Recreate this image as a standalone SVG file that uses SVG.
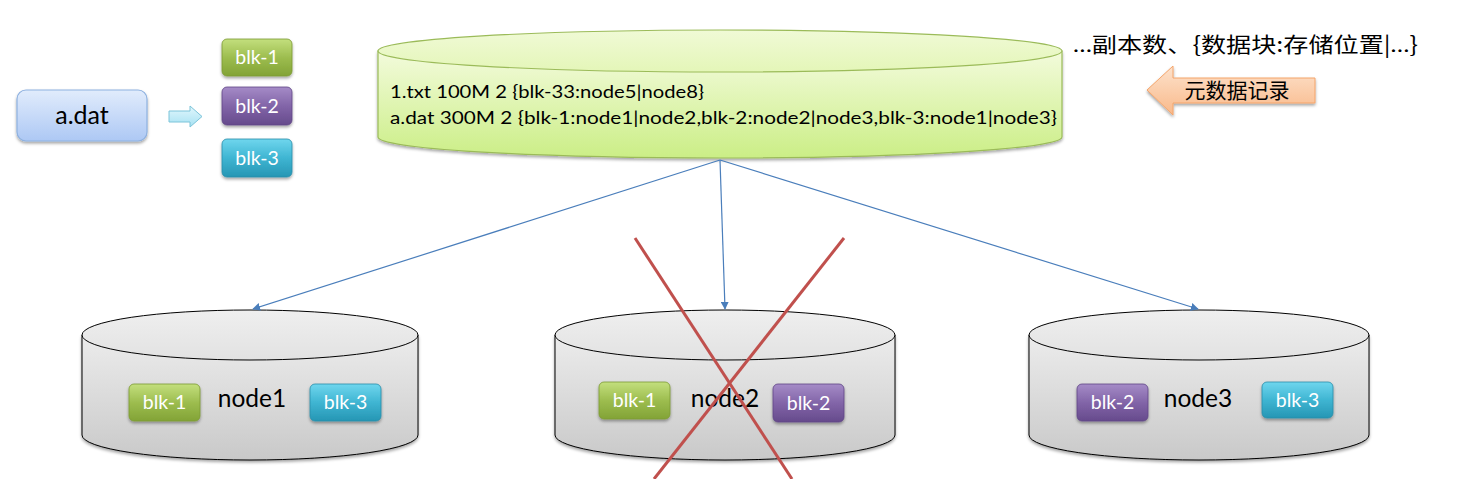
<svg xmlns="http://www.w3.org/2000/svg" width="1459" height="479" viewBox="0 0 1459 479">
<defs>
<style>
.lbl{font-family:Lato,"Liberation Sans","Noto Sans CJK SC",sans-serif;fill:#000}
.blk{font-family:Lato,"Liberation Sans",sans-serif;font-size:19.5px;fill:#fff;text-anchor:middle}
.cn{font-family:"Noto Sans CJK SC",sans-serif;fill:#000}
.lat{font-family:Lato,"Liberation Sans",sans-serif}
.conn{stroke:#4a7ebb;stroke-width:1.2;fill:none;marker-end:url(#ah)}
.cross{stroke:#c0504d;stroke-width:3;fill:none}
</style>
<linearGradient id="gG" x1="0" y1="0" x2="0" y2="1"><stop offset="0" stop-color="#c3df7d"/><stop offset="0.5" stop-color="#9dbd4f"/><stop offset="1" stop-color="#82a336"/></linearGradient>
<linearGradient id="gP" x1="0" y1="0" x2="0" y2="1"><stop offset="0" stop-color="#a58bc7"/><stop offset="0.5" stop-color="#8265a8"/><stop offset="1" stop-color="#664a8c"/></linearGradient>
<linearGradient id="gC" x1="0" y1="0" x2="0" y2="1"><stop offset="0" stop-color="#6fd6ee"/><stop offset="0.5" stop-color="#3fb5d2"/><stop offset="1" stop-color="#2696b4"/></linearGradient>
<linearGradient id="gA" x1="0" y1="0" x2="0" y2="1"><stop offset="0" stop-color="#e1ecfc"/><stop offset="1" stop-color="#adc8f4"/></linearGradient>
<linearGradient id="gY" x1="0" y1="0" x2="0" y2="1"><stop offset="0" stop-color="#f3fbdc"/><stop offset="1" stop-color="#cbee86"/></linearGradient>
<linearGradient id="gYt" x1="0" y1="0" x2="0" y2="1"><stop offset="0" stop-color="#f0fad6"/><stop offset="1" stop-color="#e4f6b8"/></linearGradient>
<linearGradient id="gS" x1="0" y1="0" x2="0" y2="1"><stop offset="0" stop-color="#ececec"/><stop offset="1" stop-color="#c9c9c9"/></linearGradient>
<linearGradient id="gSt" x1="0" y1="0" x2="0" y2="1"><stop offset="0" stop-color="#efefef"/><stop offset="1" stop-color="#e2e2e2"/></linearGradient>
<linearGradient id="gO" x1="0" y1="0" x2="0" y2="1"><stop offset="0" stop-color="#fde2cc"/><stop offset="1" stop-color="#f9b98a"/></linearGradient>
<linearGradient id="gArr" x1="0" y1="0" x2="0" y2="1"><stop offset="0" stop-color="#e2f7fd"/><stop offset="1" stop-color="#a6e1f2"/></linearGradient>
<filter id="sh" x="-20%" y="-20%" width="140%" height="160%"><feDropShadow dx="0" dy="2" stdDeviation="1.5" flood-color="#000" flood-opacity="0.35"/></filter>
<marker id="ah" viewBox="0 0 10 10" refX="9" refY="5" markerWidth="8" markerHeight="8" orient="auto" markerUnits="userSpaceOnUse"><path d="M0,0 L10,5 L0,10 z" fill="#4a7ebb"/></marker>
</defs>
<rect width="1459" height="479" fill="#fff"/>

<g id="adat">
<rect x="17" y="90" width="130" height="51" rx="9" fill="url(#gA)" stroke="#8eb1e0" stroke-width="1.2" filter="url(#sh)"/>
<text class="lbl" x="82" y="124" font-size="25" text-anchor="middle">a.dat</text>
</g>
<g id="split-arrow">
<path d="M169,111 L190,111 L190,106 L202,116.5 L190,127 L190,122 L169,122 Z" fill="url(#gArr)" stroke="#7cc4d9" stroke-width="1"/>
</g>
<g id="top-blk1"><rect x="222" y="39" width="70" height="37" rx="5" fill="url(#gG)" stroke="#7c9a34" stroke-width="0.8" filter="url(#sh)"/><text class="blk" x="257" y="64">blk-1</text></g>
<g id="top-blk2"><rect x="222" y="87" width="70" height="38" rx="5" fill="url(#gP)" stroke="#5f4585" stroke-width="0.8" filter="url(#sh)"/><text class="blk" x="257" y="113">blk-2</text></g>
<g id="top-blk3"><rect x="222" y="139" width="70" height="38" rx="5" fill="url(#gC)" stroke="#2a8eaa" stroke-width="0.8" filter="url(#sh)"/><text class="blk" x="257" y="165">blk-3</text></g>

<g id="namenode">
<path d="M378,51 L378,137 A342,21 0 0 0 1062,137 L1062,51 Z" fill="url(#gY)" stroke="#9bbb59" stroke-width="1.2" filter="url(#sh)"/>
<ellipse cx="720" cy="51" rx="342" ry="21" fill="url(#gYt)" stroke="#9bbb59" stroke-width="1.2"/>
<text class="lbl" x="390" y="98" font-size="17" textLength="314" lengthAdjust="spacingAndGlyphs">1.txt 100M 2 {blk-33:node5|node8}</text>
<text class="lbl" x="390" y="124" font-size="17" textLength="667" lengthAdjust="spacingAndGlyphs">a.dat 300M 2 {blk-1:node1|node2,blk-2:node2|node3,blk-3:node1|node3}</text>
</g>

<g id="meta-note">
<text class="cn" x="1073" y="52" font-size="21" textLength="345" lengthAdjust="spacingAndGlyphs"><tspan class="lat">…</tspan>副本数、{数据块:存储位置|<tspan class="lat">…</tspan>}</text>
</g>
<g id="meta-arrow">
<path d="M1147,90 L1173,66 L1173,78 L1315,78 L1315,103 L1173,103 L1173,115 Z" fill="url(#gO)" stroke="#f4a46a" stroke-width="1" filter="url(#sh)"/>
<text class="cn" x="1237" y="98" font-size="21" text-anchor="middle">元数据记录</text>
</g>

<g id="node1">
<path d="M82,335 L82,435 A168,25 0 0 0 418,435 L418,335 Z" fill="url(#gS)" stroke="#000" stroke-width="1" filter="url(#sh)"/>
<ellipse cx="250" cy="335" rx="168" ry="25" fill="url(#gSt)" stroke="#000" stroke-width="1"/>
<rect x="129" y="384" width="71" height="37" rx="5" fill="url(#gG)" stroke="#7c9a34" stroke-width="0.8" filter="url(#sh)"/><text class="blk" x="164.5" y="409">blk-1</text>
<rect x="310" y="384" width="71" height="37" rx="5" fill="url(#gC)" stroke="#2a8eaa" stroke-width="0.8" filter="url(#sh)"/><text class="blk" x="345.5" y="409">blk-3</text>
<text class="lbl" x="252" y="407" font-size="24.5" text-anchor="middle">node1</text>
</g>

<g id="node2">
<path d="M555,335 L555,435 A170,25 0 0 0 895,435 L895,335 Z" fill="url(#gS)" stroke="#000" stroke-width="1" filter="url(#sh)"/>
<ellipse cx="725" cy="335" rx="170" ry="25" fill="url(#gSt)" stroke="#000" stroke-width="1"/>
<rect x="599" y="382" width="71" height="37" rx="5" fill="url(#gG)" stroke="#7c9a34" stroke-width="0.8" filter="url(#sh)"/><text class="blk" x="634.5" y="407">blk-1</text>
<rect x="773" y="384" width="71" height="38" rx="5" fill="url(#gP)" stroke="#5f4585" stroke-width="0.8" filter="url(#sh)"/><text class="blk" x="808.5" y="410">blk-2</text>
<text class="lbl" x="725" y="407" font-size="24.5" text-anchor="middle">node2</text>
</g>

<g id="node3">
<path d="M1029,335 L1029,435 A170,25 0 0 0 1369,435 L1369,335 Z" fill="url(#gS)" stroke="#000" stroke-width="1" filter="url(#sh)"/>
<ellipse cx="1199" cy="335" rx="170" ry="25" fill="url(#gSt)" stroke="#000" stroke-width="1"/>
<rect x="1077" y="384" width="71" height="37" rx="5" fill="url(#gP)" stroke="#5f4585" stroke-width="0.8" filter="url(#sh)"/><text class="blk" x="1112.5" y="409">blk-2</text>
<rect x="1262" y="382" width="71" height="36" rx="5" fill="url(#gC)" stroke="#2a8eaa" stroke-width="0.8" filter="url(#sh)"/><text class="blk" x="1297.5" y="407">blk-3</text>
<text class="lbl" x="1198" y="407" font-size="24.5" text-anchor="middle">node3</text>
</g>

<g id="connectors">
<line class="conn" x1="720" y1="160" x2="253" y2="309"/>
<line class="conn" x1="720" y1="160" x2="725" y2="309"/>
<line class="conn" x1="720" y1="160" x2="1198" y2="309"/>
</g>

<g id="cross">
<line class="cross" x1="635" y1="238" x2="792" y2="479"/>
<line class="cross" x1="844" y1="238" x2="654" y2="479"/>
</g>
</svg>
